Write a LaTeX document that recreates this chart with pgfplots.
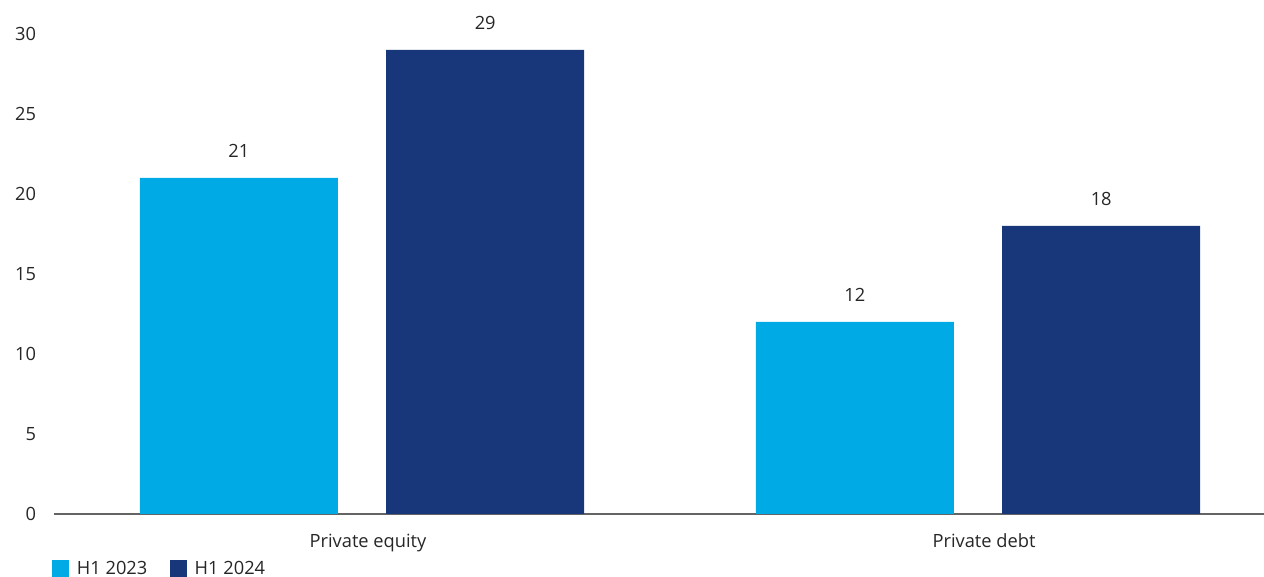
\documentclass[border=0pt]{standalone}
\usepackage{pgfplots}
\pgfplotsset{compat=1.18}
\usepackage{fontspec}
\setmainfont{Open Sans}
\definecolor{lb}{RGB}{0,170,228}
\definecolor{db}{RGB}{23,55,122}
\definecolor{ax}{RGB}{100,100,100}
\begin{document}
\begin{tikzpicture}
\begin{axis}[
  x=462pt, y=12pt,
  xmin=-0.5, xmax=1.4635, ymin=0, ymax=30,
  axis x line=bottom, axis y line=left,
  x axis line style={draw=ax, line width=1.1pt, -},
  y axis line style={draw=none},
  ytick={0,5,...,30},
  xtick={0,1}, xticklabels={Private equity, Private debt},
  major tick length=0pt,
  ybar, bar width=0.3214,
  clip=false,
  font=\fontsize{13.7pt}{16pt}\selectfont,
  /pgf/number format/assume math mode=true,
  tick label style={font=\fontsize{13.7pt}{16pt}\selectfont, text=black!85},
  xticklabel style={yshift=-11.5pt, xshift=4.5pt},
  yticklabel style={anchor=east, xshift=-10pt},
  nodes near coords,
  every node near coord/.append style={font=\fontsize{13.7pt}{16pt}\selectfont, text=black!85, yshift=12pt},
  legend columns=2,
  legend style={draw=none, at={(axis description cs:0,0)}, anchor=north west, xshift=-4.5pt, yshift=-31pt,
    font=\fontsize{13.7pt}{16pt}\selectfont, text=black!85,
    /tikz/every even column/.append style={column sep=15pt}},
  legend image code/.code={\fill[#1] (0pt,-6.4pt) rectangle (12.75pt,6.4pt); \path (16.5pt,0);},
]
\addplot[fill=lb, draw=none, bar shift=-0.2] coordinates {(0,21) (1,12)};
\addplot[fill=db, draw=none, bar shift=0.2] coordinates {(0,29) (1,18)};
\legend{H1 2023, H1 2024}
\coordinate (o) at (axis cs:-0.5,0);
\end{axis}
\pgfresetboundingbox
\path[use as bounding box] ([xshift=-40.5pt,yshift=-47.25pt]o) rectangle ([xshift=907.5pt,yshift=385.5pt]o);
\end{tikzpicture}
\end{document}
